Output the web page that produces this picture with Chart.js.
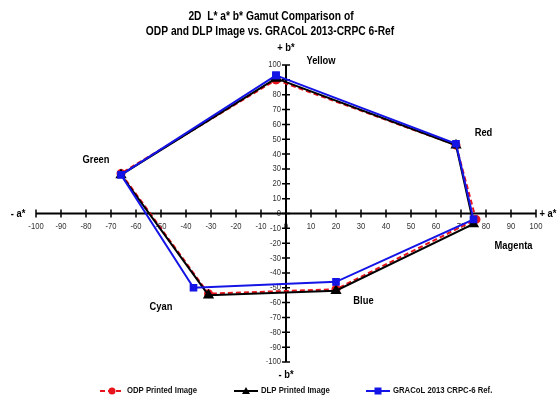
<!DOCTYPE html>
<html>
<head>
<meta charset="utf-8">
<script src="https://cdn.jsdelivr.net/npm/chart.js@4.4.1/dist/chart.umd.min.js"></script>
<style>
  html, body { margin: 0; padding: 0; background: #fff; }
  #wrap { width: 560px; height: 396px; position: relative; }
</style>
</head>
<body>
<div id="wrap"><canvas id="gamutChart" width="560" height="396"></canvas></div>
<script>
// Patch order around the hexagon, closed back on Yellow
const colours = ['Yellow', 'Red', 'Magenta', 'Blue', 'Cyan', 'Green', 'Yellow'];

// a* / b* values for each printed patch
const odpA = [-4, 68, 76, 20, -31, -66, -4];
const odpB = [90, 46, -4, -51, -54, 27, 90];
const dlpA = [-4, 68, 75, 20, -31, -66, -4];
const dlpB = [91, 46, -7, -52, -55, 26, 91];
const refA = [-4, 68, 75, 20, -37, -66, -4];
const refB = [93, 47, -4, -46, -50, 26, 93];

const axisTicks = [-100, -90, -80, -70, -60, -50, -40, -30, -20, -10, 0, 10, 20, 30, 40, 50, 60, 70, 80, 90, 100];

function toPoints(a, b) {
    return a.map((v, i) => ({ x: v, y: b[i] }));
}

const face = '"Liberation Sans", Arial, sans-serif';

// text squeezed sideways to get an Arial Narrow look
function narrowText(ctx, text, x, y, squeeze) {
    ctx.save();
    ctx.translate(x, y);
    ctx.scale(squeeze, 1);
    ctx.fillText(text, 0, 0);
    ctx.restore();
}

// where the colour names sit, in a*/b* units
const labelSpots = [
    { text: 'Yellow', x: 14, y: 103 },
    { text: 'Red', x: 79, y: 54 },
    { text: 'Magenta', x: 91, y: -22 },
    { text: 'Blue', x: 31, y: -59 },
    { text: 'Cyan', x: -50, y: -63 },
    { text: 'Green', x: -76, y: 36 }
];

// Axes through the origin, with ticks that cross the line
const crossAxes = {
    id: 'crossAxes',
    beforeDatasetsDraw(chart) {
        const ctx = chart.ctx;
        const xs = chart.scales.x;
        const ys = chart.scales.y;
        const ox = xs.getPixelForValue(0);
        const oy = ys.getPixelForValue(0);

        ctx.save();
        ctx.fillStyle = '#333';
        ctx.font = '9px ' + face;
        ctx.textAlign = 'center';
        ctx.textBaseline = 'middle';
        axisTicks.forEach(t => {
            narrowText(ctx, String(t), xs.getPixelForValue(t), oy + 13, 0.85);
        });
        ctx.textAlign = 'right';
        axisTicks.forEach(t => {
            narrowText(ctx, String(t), ox - 5, ys.getPixelForValue(t), 0.85);
        });

        ctx.strokeStyle = '#000';
        ctx.lineWidth = 2;
        ctx.beginPath();
        ctx.moveTo(xs.getPixelForValue(-100), oy);
        ctx.lineTo(xs.getPixelForValue(100), oy);
        ctx.moveTo(ox, ys.getPixelForValue(100));
        ctx.lineTo(ox, ys.getPixelForValue(-100));
        ctx.stroke();

        ctx.lineWidth = 1.5;
        ctx.beginPath();
        axisTicks.forEach(t => {
            const px = xs.getPixelForValue(t);
            const py = ys.getPixelForValue(t);
            ctx.moveTo(px, oy - 4);
            ctx.lineTo(px, oy + 4);
            ctx.moveTo(ox - 4, py);
            ctx.lineTo(ox + 4, py);
        });
        ctx.stroke();
        ctx.restore();
    },
    afterDraw(chart) {
        const ctx = chart.ctx;
        const xs = chart.scales.x;
        const ys = chart.scales.y;
        const ox = xs.getPixelForValue(0);
        const oy = ys.getPixelForValue(0);

        ctx.save();
        ctx.fillStyle = '#000';
        ctx.textAlign = 'center';
        ctx.textBaseline = 'middle';

        // title
        ctx.font = 'bold 12.5px ' + face;
        narrowText(ctx, '2D  L* a* b* Gamut Comparison of', 271, 17, 0.82);
        narrowText(ctx, 'ODP and DLP Image vs. GRACoL 2013-CRPC 6-Ref', 270, 32, 0.82);

        // axis names
        ctx.font = 'bold 11px ' + face;
        narrowText(ctx, '+ b*', ox, ys.getPixelForValue(100) - 17, 0.85);
        narrowText(ctx, '- b*', ox, ys.getPixelForValue(-100) + 13, 0.85);
        narrowText(ctx, '- a*', 18, oy, 0.85);
        narrowText(ctx, '+ a*', 548, oy, 0.85);

        // colour names
        labelSpots.forEach(l => {
            narrowText(ctx, l.text, xs.getPixelForValue(l.x), ys.getPixelForValue(l.y), 0.85);
        });

        // legend
        const ly = 391;
        ctx.font = 'bold 9px ' + face;
        ctx.textAlign = 'left';
        const items = chart.data.datasets.map((ds, i) => ({ ds, x0: [100, 234, 366][i] }));
        items.forEach(({ ds, x0 }) => {
            ctx.strokeStyle = ds.borderColor;
            ctx.lineWidth = 2;
            ctx.setLineDash(ds.borderDash || []);
            ctx.beginPath();
            ctx.moveTo(x0, ly);
            ctx.lineTo(x0 + 24, ly);
            ctx.stroke();
            ctx.setLineDash([]);
            ctx.fillStyle = ds.pointBackgroundColor;
            const cx = x0 + 12;
            ctx.beginPath();
            if (ds.pointStyle === 'circle') {
                ctx.arc(cx, ly, 3.5, 0, Math.PI * 2);
            } else if (ds.pointStyle === 'triangle') {
                ctx.moveTo(cx, ly - 4);
                ctx.lineTo(cx + 4, ly + 3);
                ctx.lineTo(cx - 4, ly + 3);
                ctx.closePath();
            } else {
                ctx.rect(cx - 3.5, ly - 3.5, 7, 7);
            }
            ctx.fill();
            ctx.fillStyle = '#111';
            narrowText(ctx, ds.label, x0 + 27, ly, 0.86);
        });
        ctx.restore();
    }
};

new Chart(document.getElementById('gamutChart'), {
    type: 'scatter',
    data: {
        datasets: [
            {
                label: 'ODP Printed Image',
                data: toPoints(odpA, odpB),
                showLine: true,
                borderColor: '#e8141c',
                backgroundColor: '#e8141c',
                pointBackgroundColor: '#e8141c',
                borderDash: [5, 3],
                borderWidth: 2,
                pointStyle: 'circle',
                pointRadius: 3.5,
                order: 3
            },
            {
                label: 'DLP Printed Image',
                data: toPoints(dlpA, dlpB),
                showLine: true,
                borderColor: '#000000',
                backgroundColor: '#000000',
                pointBackgroundColor: '#000000',
                borderWidth: 2,
                pointStyle: 'triangle',
                pointRadius: 4.5,
                order: 2
            },
            {
                label: 'GRACoL 2013 CRPC-6 Ref.',
                data: toPoints(refA, refB),
                showLine: true,
                borderColor: '#1414e6',
                backgroundColor: '#1414e6',
                pointBackgroundColor: '#1414e6',
                borderWidth: 2,
                pointStyle: 'rect',
                pointRadius: 4,
                order: 1
            }
        ]
    },
    options: {
        responsive: false,
        animation: false,
        layout: { padding: { left: 36, right: 24, top: 65, bottom: 34 } },
        plugins: {
            legend: { display: false },
            tooltip: { enabled: false }
        },
        scales: {
            x: { type: 'linear', min: -100, max: 100, display: false },
            y: { type: 'linear', min: -100, max: 100, display: false }
        }
    },
    plugins: [crossAxes]
});
</script>
</body>
</html>
